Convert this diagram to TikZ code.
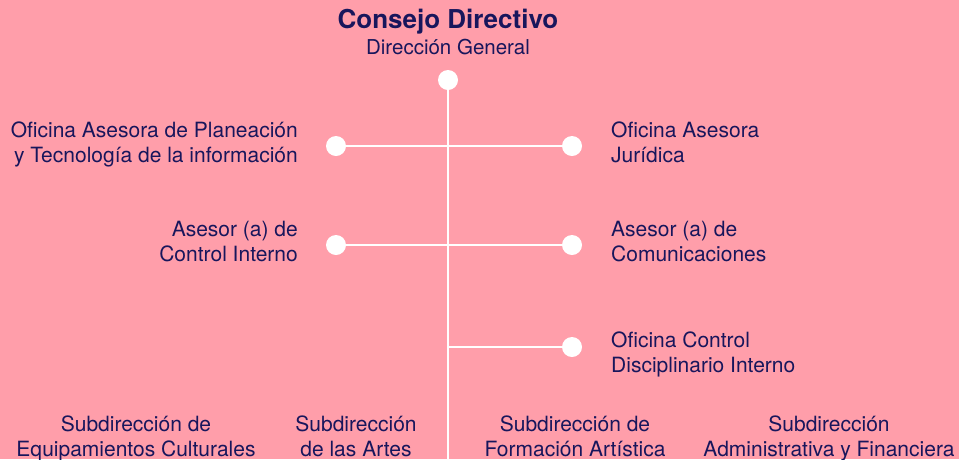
\documentclass[tikz,border=0pt]{standalone}
\usepackage{fontspec}
\setmainfont{TeX Gyre Heros}
\usetikzlibrary{positioning}
\definecolor{fondorosa}{RGB}{255,158,170}
\definecolor{textoazul}{RGB}{24,22,92}
\tikzset{
  % Lineas del organigrama
  linea/.style    = {draw=white, line width=2.5pt},
  punto/.style    = {circle, fill=white, inner sep=0pt, minimum size=20pt},
  % Textos de los cargos (base = linea inferior)
  cargo/.style    = {text=textoazul, font=\fontsize{21}{25}\selectfont, inner sep=0pt},
  cargoizq/.style = {cargo, align=right, anchor=base east},
  cargoder/.style = {cargo, align=left, anchor=base west},
  cargoinf/.style = {cargo, align=center, anchor=base},
}

\begin{document}
\begin{tikzpicture}[x=1pt, y=-1pt]
  % Fondo
  \fill[fondorosa] (0,0) rectangle (959,459);
  \useasboundingbox (0,0) rectangle (959,459);
  % Cabecera
  \node[cargo, font=\fontsize{26}{30}\selectfont\bfseries, anchor=base] (consejo) at (448,28) {Consejo Directivo};
  \node[cargo, font=\fontsize{20.5}{24}\selectfont, anchor=base] (direccion) at (448,54) {Dirección General};
  \node[punto] (ptop) at (448,80) {};
  \coordinate (pfin) at (448,459);
  \draw[linea] (ptop) -- (pfin);
  % Fila 1
  \node[punto] (pl1) at (336,146) {};
  \node[punto] (pr1) at (572,146) {};
  \draw[linea] (pl1) -- (pr1);
  \node[cargoizq] (planeacion) at (298,162) {Oficina Asesora de Planeación\\y Tecnología de la información};
  \node[cargoder] (juridica) at (611,162) {Oficina Asesora\\Jurídica};
  % Fila 2
  \node[punto] (pl2) at (336,245) {};
  \node[punto] (pr2) at (572,245) {};
  \draw[linea] (pl2) -- (pr2);
  \node[cargoizq] (control) at (298,261) {Asesor (a) de\\Control Interno};
  \node[cargoder] (comunicaciones) at (611,261) {Asesor (a) de\\Comunicaciones};
  % Fila 3
  \coordinate (c3) at (448,347);
  \node[punto] (pr3) at (572,347) {};
  \draw[linea] (c3) -- (pr3);
  \node[cargoder] (disciplinario) at (611,372) {Oficina Control\\Disciplinario Interno};
  % Subdirecciones
  \node[cargoinf] (equipamientos) at (136,456) {Subdirección de\\Equipamientos Culturales};
  \node[cargoinf] (artes) at (356,456) {Subdirección\\de las Artes};
  \node[cargoinf] (formacion) at (575,456) {Subdirección de\\Formación Artística};
  \node[cargoinf] (administrativa) at (829,456) {Subdirección\\Administrativa y Financiera};
\end{tikzpicture}
\end{document}
